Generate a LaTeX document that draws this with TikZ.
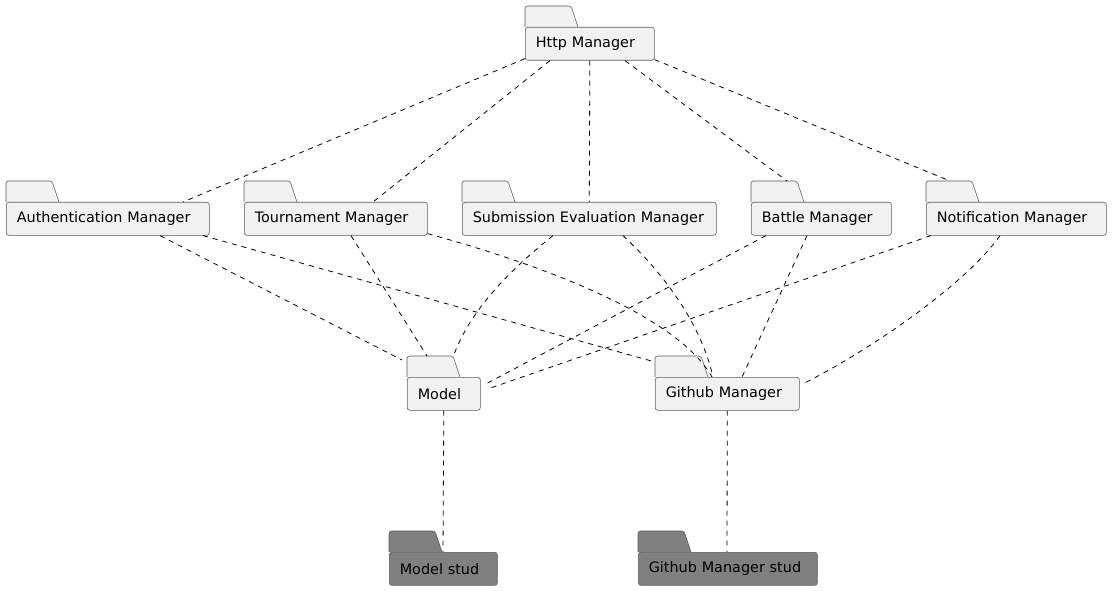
\documentclass[tikz,border=0pt]{standalone}
\usepackage{fontspec}
\setmainfont{DejaVu Sans}
\usepackage{tikz}
\definecolor{pk}{RGB}{241,241,241}
\definecolor{pkd}{RGB}{128,128,128}
\definecolor{bd}{RGB}{90,90,90}
\tikzset{
  pkgtab/.style={draw=bd, fill=pk, line width=0.6pt, rounded corners=2.5pt},
  pkgbox/.style={draw=bd, fill=pk, line width=0.6pt, rounded corners=2.5pt, anchor=north west,
    minimum height=33pt, inner xsep=10.5pt, inner ysep=0pt, align=left,
    font=\fontsize{14.4}{17}\selectfont},
  stud/.style={fill=pkd},
  link/.style={dash pattern=on 5pt off 5pt, line width=0.8pt}
}
% \pkg{name}{x}{y}{width}{style}{label}
\newcommand\pkg[6]{%
  \pgfmathsetmacro\tw{#4-21}
  \filldraw[pkgtab,#5] (#2,#3) -- ++(0,-21) -- ++(46,0) -- ++(7,21);
  \node[pkgbox,#5,text width=\tw pt] (#1) at (#2,#3) {#6};
}

\begin{document}
\begin{tikzpicture}[x=1pt,y=-1pt]
\useasboundingbox (0,0) rectangle (1112,591);
% packages
\pkg{http}{525}{27}{129}{}{Http Manager}
\pkg{auth}{6}{202}{203}{}{Authentication Manager}
\pkg{tour}{244}{202}{183}{}{Tournament Manager}
\pkg{sub}{462}{202}{254}{}{Submission Evaluation Manager}
\pkg{battle}{751}{202}{140}{}{Battle Manager}
\pkg{notif}{926}{202}{180}{}{Notification Manager}
\pkg{model}{407}{377}{73}{}{Model}
\pkg{github}{655}{377}{144}{}{Github Manager}
\pkg{mstud}{389}{552}{108}{stud}{Model stud}
\pkg{gstud}{638}{552}{179}{stud}{Github Manager stud}
% links from http
\draw[link] ([yshift=2pt]http.south west) -- ([xshift=177pt]auth.north west);
\draw[link] ([xshift=25pt]http.south west) -- ([xshift=129pt]tour.north west);
\draw[link] (http.south) -- (sub.north);
\draw[link] ([xshift=100pt]http.south west) -- ([xshift=36pt,yshift=21pt]battle.north west);
\draw[link] ([yshift=1pt]http.south east) -- ([xshift=24pt,yshift=21pt]notif.north west);
% links to model and github
\draw[link] ([xshift=154pt]auth.south west) -- ([xshift=-5pt,yshift=17pt]model.north west);
\draw[link] ([xshift=197pt]auth.south west) -- ([yshift=15pt]github.north west);
\draw[link] ([xshift=107pt]tour.south west) -- ([xshift=20pt,yshift=21pt]model.north west);
\draw[link] ([yshift=2pt]tour.south east) .. controls (560,270) and (680,320) .. ([xshift=57pt]github.north west);
\draw[link] ([xshift=91pt]sub.south west) .. controls (510,270) and (470,310) .. ([xshift=46pt,yshift=20pt]model.north west);
\draw[link] ([xshift=161pt]sub.south west) .. controls (660,270) and (700,320) .. ([xshift=58pt]github.north west);
\draw[link] ([xshift=15pt]battle.south west) -- ([xshift=7pt,yshift=-6pt]model.north east);
\draw[link] ([xshift=56pt]battle.south west) -- ([xshift=87pt]github.north west);
\draw[link] ([xshift=5pt]notif.south west) -- ([xshift=7pt,yshift=-12pt]model.north east);
\draw[link] ([xshift=74pt]notif.south west) .. controls (965,285) and (870,350) .. ([xshift=5pt,yshift=-6pt]github.north east);
% stud links
\draw[link] (model.south) -- ([xshift=54pt]mstud.north west);
\draw[link] (github.south) -- ([xshift=89pt]gstud.north west);
\end{tikzpicture}
\end{document}
